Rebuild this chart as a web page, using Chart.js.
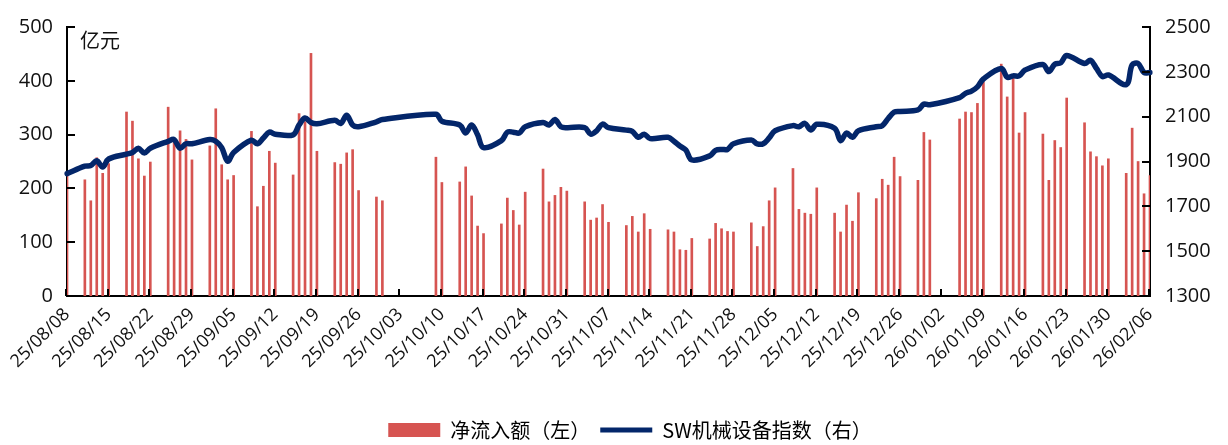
<!DOCTYPE html>
<html>
<head>
<meta charset="utf-8">
<script src="https://cdn.jsdelivr.net/npm/chart.js@4.4.1/dist/chart.umd.min.js"></script>
<style>
  html, body { margin: 0; padding: 0; background: #ffffff; }
  #wrap { width: 1228px; height: 445px; }
</style>
</head>
<body>
<div id="wrap"><canvas id="c" width="1228" height="445"></canvas></div>
<script>
// ---- data ----
const tradeDates = [
  '25/08/08','25/08/11','25/08/12','25/08/13','25/08/14','25/08/15',
  '25/08/18','25/08/19','25/08/20','25/08/21','25/08/22',
  '25/08/25','25/08/26','25/08/27','25/08/28','25/08/29',
  '25/09/01','25/09/02','25/09/03','25/09/04','25/09/05',
  '25/09/08','25/09/09','25/09/10','25/09/11','25/09/12',
  '25/09/15','25/09/16','25/09/17','25/09/18','25/09/19',
  '25/09/22','25/09/23','25/09/24','25/09/25','25/09/26',
  '25/09/29','25/09/30',
  '25/10/09','25/10/10',
  '25/10/13','25/10/14','25/10/15','25/10/16','25/10/17',
  '25/10/20','25/10/21','25/10/22','25/10/23','25/10/24',
  '25/10/27','25/10/28','25/10/29','25/10/30','25/10/31',
  '25/11/03','25/11/04','25/11/05','25/11/06','25/11/07',
  '25/11/10','25/11/11','25/11/12','25/11/13','25/11/14',
  '25/11/17','25/11/18','25/11/19','25/11/20','25/11/21',
  '25/11/24','25/11/25','25/11/26','25/11/27','25/11/28',
  '25/12/01','25/12/02','25/12/03','25/12/04','25/12/05',
  '25/12/08','25/12/09','25/12/10','25/12/11','25/12/12',
  '25/12/15','25/12/16','25/12/17','25/12/18','25/12/19',
  '25/12/22','25/12/23','25/12/24','25/12/25','25/12/26',
  '25/12/29','25/12/30','25/12/31',
  '26/01/05','26/01/06','26/01/07','26/01/08','26/01/09',
  '26/01/12','26/01/13','26/01/14','26/01/15','26/01/16',
  '26/01/19','26/01/20','26/01/21','26/01/22','26/01/23',
  '26/01/26','26/01/27','26/01/28','26/01/29','26/01/30',
  '26/02/02','26/02/03','26/02/04','26/02/05','26/02/06'
];

// 净流入额（亿元, 左轴）
const netInflow = [
  225,216,177,257,228,246,
  342,325,255,223,249,
  351,285,307,291,253,
  279,348,244,216,224,
  306,166,204,269,247,
  225,339,324,451,269,
  248,245,266,272,196,
  184,177,
  258,211,
  212,240,186,130,116,
  134,182,159,132,193,
  236,175,187,202,195,
  175,141,145,170,137,
  131,148,119,153,124,
  123,119,86,85,107,
  106,135,125,120,119,
  136,92,129,177,201,
  237,161,154,152,201,
  154,119,169,139,192,
  181,217,206,258,222,
  215,304,290,
  329,342,341,358,398,
  431,370,405,303,341,
  301,215,289,276,368,
  322,268,259,242,255,
  228,312,250,190,224
];

// SW机械设备指数（右轴）
const indexValues = [
  1846,1879,1882,1903,1875,1911,
  1933,1940,1959,1938,1959,
  1990,1998,1959,1979,1979,
  1998,1990,1962,1901,1940,
  1995,1979,2005,2031,2022,
  2019,2063,2094,2074,2068,
  2084,2070,2106,2063,2055,
  2077,2087,
  2111,2080,
  2063,2027,2063,2019,1962,
  1993,2031,2031,2027,2055,
  2074,2063,2087,2055,2051,
  2051,2022,2037,2067,2051,
  2040,2034,2008,2022,2002,
  2008,1990,1969,1951,1907,
  1925,1950,1954,1954,1979,
  1996,1979,1979,2005,2037,
  2060,2055,2070,2041,2066,
  2048,1993,2027,2008,2037,
  2055,2060,2092,2120,2123,
  2130,2156,2153,
  2185,2204,2214,2233,2268,
  2315,2276,2282,2282,2308,
  2333,2301,2334,2340,2373,
  2337,2352,2315,2279,2286,
  2243,2331,2337,2297,2297
];

// x-axis tick labels (every 7 calendar days)
const tickLabels = [
  '25/08/08','25/08/15','25/08/22','25/08/29','25/09/05','25/09/12','25/09/19',
  '25/09/26','25/10/03','25/10/10','25/10/17','25/10/24','25/10/31','25/11/07',
  '25/11/14','25/11/21','25/11/28','25/12/05','25/12/12','25/12/19','25/12/26',
  '26/01/02','26/01/09','26/01/16','26/01/23','26/01/30','26/02/06'
];

const leftTicks = [0, 100, 200, 300, 400, 500];
const rightTicks = [1300, 1500, 1700, 1900, 2100, 2300, 2500];

// ---- build a calendar-day category axis (date axis like the original) ----
function fmt(d) {
  const yy = String(d.getFullYear() % 100).padStart(2, '0');
  const mm = String(d.getMonth() + 1).padStart(2, '0');
  const dd = String(d.getDate()).padStart(2, '0');
  return yy + '/' + mm + '/' + dd;
}
function parse(s) {
  const p = s.split('/');
  return new Date(2000 + (+p[0]), (+p[1]) - 1, +p[2]);
}
const calendar = [];
for (let d = parse(tradeDates[0]); d <= parse(tradeDates[tradeDates.length - 1]); d.setDate(d.getDate() + 1)) {
  calendar.push(fmt(d));
}
const barData = calendar.map(() => null);
const lineData = calendar.map(() => null);
tradeDates.forEach((t, i) => {
  const k = calendar.indexOf(t);
  barData[k] = netInflow[i];
  lineData[k] = indexValues[i];
});

const BAR_COLOR = '#D65451';
const LINE_COLOR = '#03266A';
const FONT_NUM = 'Open Sans, "Noto Sans CJK SC", sans-serif';
const FONT_CJK = '"Noto Sans CJK SC", sans-serif';

// inside tick marks + unit label + legend nudge
const decorPlugin = {
  id: 'decor',
  afterLayout(chart) {
    if (chart.legend) { chart.legend.left += 16; chart.legend.right += 16; }
  },
  afterDraw(chart) {
    const ctx = chart.ctx;
    const a = chart.chartArea;
    const x = chart.scales.x, yl = chart.scales.y, yr = chart.scales.y2;
    ctx.save();
    ctx.strokeStyle = '#000';
    ctx.lineWidth = 2;
    ctx.beginPath();
    calendar.forEach((lab, i) => {
      if (tickLabels.includes(lab)) {
        const px = Math.round(x.getPixelForValue(i)) - 1;
        ctx.moveTo(px, a.bottom);
        ctx.lineTo(px, a.bottom - 7);
      }
    });
    leftTicks.forEach(v => {
      const py = Math.round(yl.getPixelForValue(v));
      ctx.moveTo(a.left, py);
      ctx.lineTo(a.left + 8, py);
    });
    rightTicks.forEach(v => {
      const py = Math.round(yr.getPixelForValue(v));
      ctx.moveTo(a.right, py);
      ctx.lineTo(a.right - 8, py);
    });
    ctx.stroke();
    ctx.fillStyle = '#111';
    ctx.font = '20px ' + FONT_CJK;
    ctx.textBaseline = 'middle';
    ctx.textAlign = 'left';
    ctx.fillText('亿元', a.left + 13, a.top + 13);
    ctx.restore();
  }
};

new Chart(document.getElementById('c'), {
  data: {
    labels: calendar,
    datasets: [
      {
        type: 'bar',
        label: '净流入额（左）',
        data: barData,
        backgroundColor: BAR_COLOR,
        barThickness: 2,
        yAxisID: 'y',
        order: 2
      },
      {
        type: 'line',
        label: 'SW机械设备指数（右）',
        data: lineData,
        borderColor: LINE_COLOR,
        backgroundColor: LINE_COLOR,
        borderWidth: 5.5,
        borderJoinStyle: 'round',
        borderCapStyle: 'round',
        pointRadius: 0,
        tension: 0.35,
        spanGaps: true,
        yAxisID: 'y2',
        order: 1
      }
    ]
  },
  options: {
    responsive: false,
    devicePixelRatio: 1,
    animation: false,
    layout: { padding: { top: 19, left: 0, right: 0, bottom: 0 } },
    plugins: {
      tooltip: { enabled: false },
      legend: {
        position: 'bottom',
        maxHeight: 35,
        labels: {
          usePointStyle: true,
          pointStyleWidth: 52,
          boxWidth: 52,
          boxHeight: 14,
          padding: 10,
          color: '#222',
          font: { size: 20, family: FONT_CJK },
          generateLabels() {
            return [
              { text: '净流入额（左）', fillStyle: BAR_COLOR, strokeStyle: BAR_COLOR, lineWidth: 0, pointStyle: 'rect', datasetIndex: 0 },
              { text: 'SW机械设备指数（右）', fillStyle: LINE_COLOR, strokeStyle: LINE_COLOR, lineWidth: 5, pointStyle: 'line', datasetIndex: 1 }
            ];
          }
        }
      }
    },
    scales: {
      x: {
        type: 'category',
        offset: false,
        grid: { display: false, drawTicks: false },
        border: { display: true, color: '#000', width: 2 },
        ticks: {
          autoSkip: false,
          minRotation: 45,
          maxRotation: 45,
          padding: 8,
          color: '#111',
          font: { size: 18, family: FONT_NUM },
          callback(v, i) { return tickLabels.includes(calendar[i]) ? calendar[i] : ''; }
        },
        afterFit(s) { s.height = 114; }
      },
      y: {
        position: 'left',
        min: 0, max: 500,
        grid: { display: false, drawTicks: false },
        border: { display: true, color: '#000', width: 2 },
        ticks: { stepSize: 100, padding: 14, color: '#111', font: { size: 20, family: FONT_NUM },
                 callback(v) { return String(v); } },
        afterFit(s) { s.width = 67; }
      },
      y2: {
        position: 'right',
        min: 1300, max: 2500,
        grid: { display: false, drawTicks: false },
        border: { display: true, color: '#000', width: 2 },
        ticks: { stepSize: 200, padding: 15, color: '#111', font: { size: 20, family: FONT_NUM },
                 callback(v) { return String(v); } },
        afterFit(s) { s.width = 78; }
      }
    }
  },
  plugins: [decorPlugin]
});
</script>
</body>
</html>
